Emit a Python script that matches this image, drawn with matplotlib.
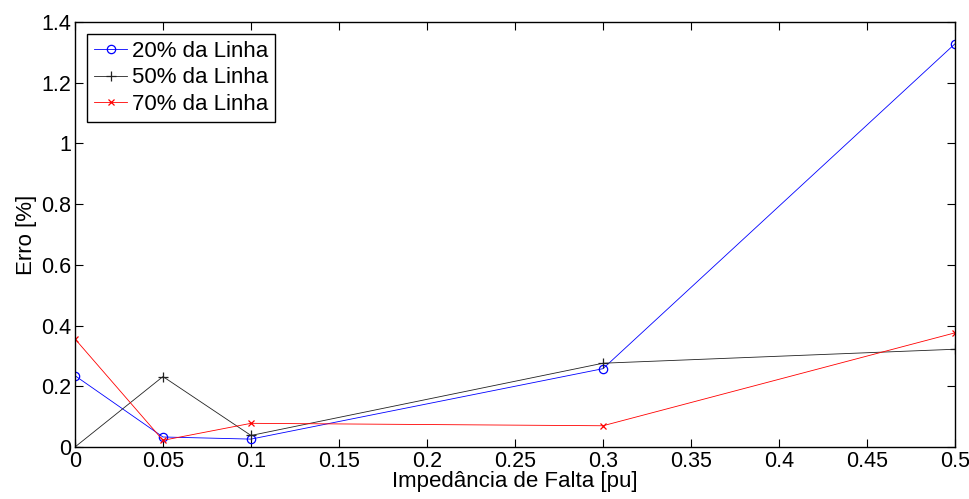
import matplotlib
matplotlib.use('Agg')
import matplotlib.pyplot as plt

plt.rcParams['font.family'] = ['Liberation Sans', 'DejaVu Sans']

# fault impedance [pu]
impedancia = [0, 0.05, 0.1, 0.3, 0.5]

# error [%] for each fault location
erro_20 = [0.235, 0.033, 0.026, 0.258, 1.328]
erro_50 = [0.0, 0.232, 0.038, 0.276, 0.322]
erro_70 = [0.356, 0.022, 0.078, 0.070, 0.376]

xticks = [0, 0.05, 0.1, 0.15, 0.2, 0.25, 0.3, 0.35, 0.4, 0.45, 0.5]
xtick_labels = ['0', '0.05', '0.1', '0.15', '0.2', '0.25', '0.3', '0.35', '0.4', '0.45', '0.5']
yticks = [0, 0.2, 0.4, 0.6, 0.8, 1.0, 1.2, 1.4]
ytick_labels = ['0', '0.2', '0.4', '0.6', '0.8', '1', '1.2', '1.4']

fig = plt.figure(figsize=(9.7, 4.99), dpi=100)
ax = fig.add_axes([0.0773, 0.1042, 0.9072, 0.8518])

ax.plot(impedancia, erro_20, color='blue', lw=0.6, marker='o', ms=6,
        mfc='none', mew=0.9, label='20% da Linha')
ax.plot(impedancia, erro_50, color='#222222', lw=0.6, marker='+', ms=7,
        mew=0.9, label='50% da Linha')
ax.plot(impedancia, erro_70, color='red', lw=0.6, marker='x', ms=4,
        mew=0.9, label='70% da Linha')

ax.set_xlim(0, 0.5)
ax.set_ylim(0, 1.4)
ax.set_xticks(xticks)
ax.set_xticklabels(xtick_labels)
ax.set_yticks(yticks)
ax.set_yticklabels(ytick_labels)
ax.tick_params(direction='in', top=True, right=True, labelsize=15.5,
               length=6, width=0.8, pad=3)
for s in ax.spines.values():
    s.set_linewidth(1.0)

ax.set_xlabel('Impedância de Falta [pu]', fontsize=16, labelpad=-1)
ax.set_ylabel('Erro [%]', fontsize=16, labelpad=3)

leg = ax.legend(loc='upper left', fontsize=16, fancybox=False, framealpha=1,
                edgecolor='black', handlelength=1.5, handletextpad=0.2,
                borderpad=0.3, labelspacing=0.25, borderaxespad=0.55)
leg.get_frame().set_linewidth(1.0)

fig.savefig('out.png', dpi=100)
